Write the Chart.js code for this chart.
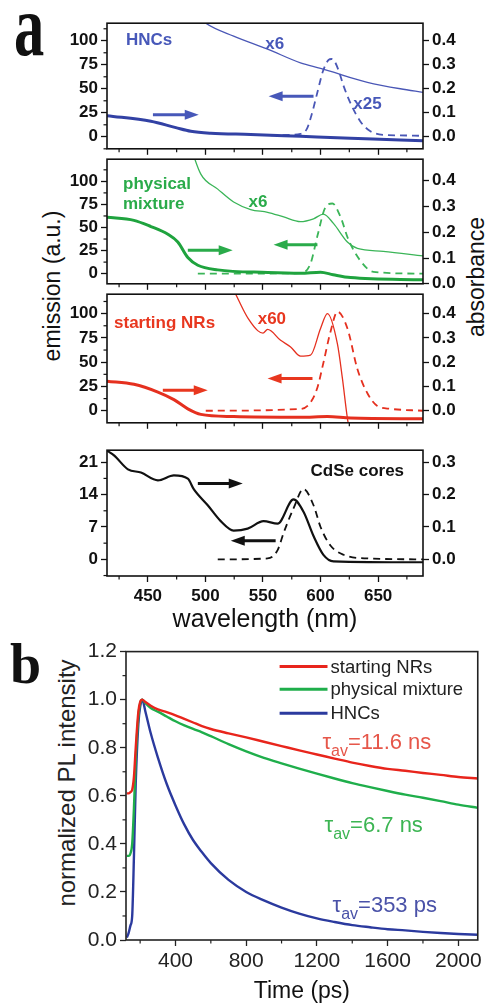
<!DOCTYPE html>
<html>
<head>
<meta charset="utf-8">
<script src="https://cdn.jsdelivr.net/npm/chart.js@4.4.1/dist/chart.umd.min.js"></script>
<style>
  body { margin: 0; background: #fff; width: 485px; height: 1003px; position: relative; overflow: hidden;
         font-family: 'Liberation Sans', Arial, sans-serif; color: #111; }
  .box { position: absolute; left: 0; width: 485px; }
  .rot { position: absolute; white-space: nowrap; transform: translate(-50%, -50%) rotate(-90deg); }
  .big { position: absolute; font-family: 'Liberation Serif', 'DejaVu Serif', serif; font-weight: bold;
         font-size: 56px; line-height: 56px; transform-origin: 0 0; }
</style>
</head>
<body>
<div class="big" style="left:14px;top:-20px;transform:scale(1.08,1.6)">a</div>
<div class="big" style="left:10px;top:636px">b</div>
<div class="rot" style="left:52px;top:286px;font-size:23px">emission (a.u.)</div>
<div class="rot" style="left:476px;top:277px;font-size:23px">absorbance</div>
<div class="rot" style="left:67px;top:783px;font-size:24px;color:#222">normalized PL intensity</div>

<div class="box" style="top:10px;height:152px"><canvas id="hnc"></canvas></div>
<div class="box" style="top:146px;height:151px"><canvas id="mix"></canvas></div>
<div class="box" style="top:281px;height:155px"><canvas id="nr"></canvas></div>
<div class="box" style="top:437px;height:197px"><canvas id="cdse"></canvas></div>
<div class="box" style="top:636px;height:367px"><canvas id="decay"></canvas></div>

<script>
// ---- panel a: wavelength axis ------------------------------------------------
const wlMin = 414.5, wlMax = 689;
const wlTicks = [450, 500, 550, 600, 650];

// HNCs (absorbance on right axis, emission on left axis)
const hncAbsWl = [414.5, 452.6, 474.3, 487.3, 504.6, 539.3, 582.6, 626, 669.3, 689];
const hncAbs   = [0.088, 0.065, 0.038, 0.023, 0.015, 0.010, 0.002, -0.006, -0.013, -0.017];
const hncAbsX6Wl = [487, 500.3, 524.5, 554, 582.6, 600, 611.2, 626, 640.7, 669.3, 689];
const hncAbsX6   = [0.53, 0.473, 0.419, 0.365, 0.308, 0.285, 0.269, 0.246, 0.227, 0.2, 0.185];
const hncEmWl = [556.6, 574, 582.6, 588, 592, 597, 602, 607, 609.5, 612, 616, 620, 626, 634.6, 643, 654.5, 669, 689];
const hncEm   = [1.5, 2, 3, 8, 22, 45, 68, 80, 81, 79, 68, 53, 35, 16, 6, 2, 1.5, 1];

// physical mixture
const mixAbsWl = [414.5, 437.9, 452.6, 467.4, 476, 484.7, 493.4, 510.7, 554, 582.6, 600, 611, 626, 689];
const mixAbs   = [0.258, 0.246, 0.222, 0.192, 0.162, 0.102, 0.072, 0.054, 0.044, 0.041, 0.045, 0.035, 0.024, 0.0155];
const mixAbsX6Wl = [485, 496, 510.7, 524.5, 539.3, 554, 568, 582.6, 593.9, 602.5, 611.2, 623.3, 632, 654.5, 689];
const mixAbsX6   = [0.56, 0.425, 0.367, 0.317, 0.288, 0.277, 0.259, 0.241, 0.252, 0.27, 0.234, 0.162, 0.137, 0.126, 0.108];
const mixEmWl = [493.4, 582.6, 591.3, 597.3, 604.3, 610.3, 617.2, 624.2, 634.6, 645.9, 689];
const mixEm   = [0, 0.5, 11, 41, 72, 76, 62, 37, 14, 2, 0];

// starting NRs
const nrAbsWl = [414.5, 437.9, 458.7, 472.6, 484.7, 496, 524.5, 582.6, 606, 626, 689];
const nrAbs   = [0.122, 0.109, 0.077, 0.046, 0.008, -0.015, -0.024, -0.027, -0.024, -0.03, -0.033];
const nrAbsX60Wl = [522, 526.3, 533, 537.5, 545.4, 550, 554, 565.3, 574, 582.6, 591.3, 600, 606, 614.7, 619, 623.3, 626];
const nrAbsX60   = [0.52, 0.48, 0.415, 0.377, 0.33, 0.32, 0.335, 0.29, 0.263, 0.225, 0.229, 0.339, 0.40, 0.274, 0.133, -0.03, -0.1];
const nrEmWl = [500.3, 582.6, 591.3, 597.3, 602.5, 608.6, 614.7, 623.3, 632, 640.7, 649.3, 660.6, 689];
const nrEm   = [0, 1.9, 8.6, 24, 49.5, 81, 102, 85, 43, 18, 5, 2, 0];

// CdSe cores
const cdseAbsWl = [414.5, 420.6, 432.7, 444, 458.7, 472.6, 484.7, 490, 502, 513.3, 524.5, 536.7, 550.5, 562.7, 576.5, 585.2, 593.9, 602.5, 611.2, 689];
const cdseAbs   = [0.336, 0.321, 0.278, 0.268, 0.244, 0.259, 0.249, 0.216, 0.167, 0.118, 0.089, 0.095, 0.118, 0.11, 0.185, 0.147, 0.072, 0.014, -0.006, -0.009];
const cdseEmWl = [510.7, 554, 562.7, 567.9, 576.5, 585.2, 593.9, 600, 608.6, 619.9, 640.7, 689];
const cdseEm   = [0, 0.2, 2, 5.7, 11, 15.2, 11.7, 7, 3, 1, 0.2, 0];

// ---- panel b: PL decay -------------------------------------------------------
const timeTicks = [400, 800, 1200, 1600, 2000];
const plTicks = [0, 0.2, 0.4, 0.6, 0.8, 1.0, 1.2];
const timePs = [125, 135, 145, 155, 165, 175, 190, 200, 212, 230, 260, 300, 350, 400, 450, 500, 550, 600,
                700, 800, 900, 1000, 1100, 1200, 1300, 1400, 1500, 1600, 1700, 1800, 1900, 2000, 2110];
const plNRs = [0.61, 0.61, 0.615, 0.625, 0.68, 0.8, 0.95, 0.99, 1.0, 0.99, 0.975, 0.96, 0.948, 0.935, 0.92, 0.905, 0.89, 0.878,
               0.86, 0.843, 0.825, 0.807, 0.789, 0.772, 0.755, 0.738, 0.724, 0.712, 0.704, 0.695, 0.687, 0.678, 0.672];
const plMix = [0.35, 0.35, 0.36, 0.40, 0.55, 0.75, 0.93, 0.985, 1.0, 0.985, 0.965, 0.95, 0.93, 0.91, 0.893, 0.878, 0.864, 0.848,
               0.815, 0.785, 0.758, 0.735, 0.713, 0.692, 0.672, 0.653, 0.636, 0.62, 0.605, 0.592, 0.578, 0.563, 0.55];
const plHNC = [0.01, 0.03, 0.06, 0.10, 0.35, 0.65, 0.9, 0.97, 1.0, 0.95, 0.86, 0.76, 0.65, 0.56, 0.48, 0.415, 0.365, 0.32,
               0.25, 0.2, 0.165, 0.135, 0.11, 0.09, 0.075, 0.062, 0.053, 0.045, 0.04, 0.034, 0.029, 0.025, 0.022];

// -------------------------------------------------------------------------------
const FAM = "'Liberation Sans', Arial, sans-serif";
Chart.defaults.font.family = FAM;
Chart.defaults.color = '#111';

const BLUE = '#3241a4', BLUE_T = '#4a57b6', BLUE_L = '#4758b9';
const GREEN = '#1fa33e', GREEN_T = '#3bb558', GREEN_L = '#2aab4a';
const RED = '#e5301f', RED_L = '#e8371f';
const BLACK = '#111';

const pts = (xs, ys) => xs.map((x, i) => ({x, y: ys[i]}));
const line = (data, color, width, axis, dash, label) => ({
  label, data, borderColor: color, backgroundColor: color, borderWidth: width, yAxisID: axis,
  borderDash: dash || [], pointRadius: 0, cubicInterpolationMode: 'monotone', fill: false
});
const DASH = [7, 5];

// box around the plot area
const frame = {
  id: 'frame',
  afterDatasetsDraw(chart, args, o) {
    const {ctx, chartArea: a} = chart;
    ctx.save();
    ctx.strokeStyle = o.color; ctx.lineWidth = o.width;
    ctx.strokeRect(a.left, a.top, a.right - a.left, a.bottom - a.top);
    ctx.restore();
  }
};

// short ticks between the labelled ones
const minorTicks = {
  id: 'minorTicks',
  afterDraw(chart, args, o) {
    const ctx = chart.ctx;
    ctx.save();
    ctx.strokeStyle = o.color; ctx.lineWidth = o.width;
    for (const [id, step] of Object.entries(o.steps || {})) {
      const s = chart.scales[id];
      if (!s) continue;
      const n0 = Math.ceil(s.min / step), n1 = Math.floor(s.max / step);
      for (let k = n0; k <= n1; k++) {
        const v = k * step;
        if (s.ticks.some(t => Math.abs(t.value - v) < step * 1e-3)) continue;
        const p = s.getPixelForValue(v);
        ctx.beginPath();
        if (s.isHorizontal()) { ctx.moveTo(p, s.top); ctx.lineTo(p, s.top + o.len); }
        else if (s.position === 'left') { ctx.moveTo(s.right, p); ctx.lineTo(s.right - o.len, p); }
        else { ctx.moveTo(s.left, p); ctx.lineTo(s.left + o.len, p); }
        ctx.stroke();
      }
    }
    ctx.restore();
  }
};

// labels, arrows, legend and lifetimes, placed in data units
const notes = {
  id: 'notes',
  afterDraw(chart, args, o) {
    const {ctx, scales} = chart;
    const X = scales.x;
    ctx.save();
    for (const n of o.items || []) {
      const Y = scales[n.axis || 'y'];
      if (n.arrow) {
        const x0 = X.getPixelForValue(n.arrow[0]), x1 = X.getPixelForValue(n.arrow[1]);
        const y = Y.getPixelForValue(n.y), dir = Math.sign(x1 - x0), head = 14;
        ctx.strokeStyle = n.color; ctx.fillStyle = n.color; ctx.lineWidth = 3;
        ctx.beginPath(); ctx.moveTo(x0, y); ctx.lineTo(x1 - dir * head * 0.7, y); ctx.stroke();
        ctx.beginPath(); ctx.moveTo(x1, y); ctx.lineTo(x1 - dir * head, y - 5); ctx.lineTo(x1 - dir * head, y + 5);
        ctx.closePath(); ctx.fill();
      } else if (n.legend) {
        const x0 = X.getPixelForValue(n.x0), x1 = X.getPixelForValue(n.x1), tx = X.getPixelForValue(n.tx);
        ctx.font = n.size + 'px ' + FAM; ctx.textBaseline = 'middle'; ctx.textAlign = 'left';
        chart.data.datasets.forEach((d, i) => {
          const y = Y.getPixelForValue(n.ys[i]);
          ctx.strokeStyle = d.borderColor; ctx.lineWidth = 3;
          ctx.beginPath(); ctx.moveTo(x0, y); ctx.lineTo(x1, y); ctx.stroke();
          ctx.fillStyle = n.color; ctx.fillText(d.label, tx, y + 1);
        });
      } else if (n.tau) {
        let x = X.getPixelForValue(n.x);
        const y = Y.getPixelForValue(n.y);
        ctx.fillStyle = n.color; ctx.textBaseline = 'alphabetic'; ctx.textAlign = 'left';
        ctx.font = n.size + 'px ' + FAM;
        ctx.fillText('τ', x, y); x += ctx.measureText('τ').width;
        ctx.font = Math.round(n.size * 0.72) + 'px ' + FAM;
        ctx.fillText('av', x, y + n.size * 0.33); x += ctx.measureText('av').width;
        ctx.font = n.size + 'px ' + FAM;
        ctx.fillText(n.text, x, y);
      } else {
        ctx.fillStyle = n.color; ctx.textBaseline = 'middle'; ctx.textAlign = 'left';
        ctx.font = 'bold 17px ' + FAM;
        ctx.fillText(n.text, X.getPixelForValue(n.x), Y.getPixelForValue(n.y));
      }
    }
    ctx.restore();
  }
};

const tickGrid = (len, color) => ({display: true, drawOnChartArea: false, drawTicks: true, tickLength: len,
  tickColor: color, tickWidth: 1.3, color: color});

function panelA(id, o) {
  const tickFont = {size: 17, weight: 'bold'};
  new Chart(document.getElementById(id), {
    type: 'line',
    data: {datasets: o.datasets},
    options: {
      responsive: true, maintainAspectRatio: false, animation: false, events: [],
      layout: {autoPadding: false, padding: {top: 4, left: 0, right: 0, bottom: 0}},
      scales: {
        x: {
          type: 'linear', min: wlMin, max: wlMax,
          afterBuildTicks: s => { s.ticks = wlTicks.map(v => ({value: v})); },
          afterFit: s => { s.height = o.xh; },
          grid: tickGrid(6, BLACK), border: {display: false},
          ticks: {display: !!o.xTitle, autoSkip: false, maxRotation: 0, font: tickFont, color: BLACK, padding: 4,
                  callback: v => String(v)},
          title: o.xTitle ? {display: true, text: o.xTitle, color: BLACK, font: {size: 25, lineHeight: 1},
                             padding: {top: 0, bottom: 1}} : {display: false}
        },
        y: {
          position: 'left', min: o.yMin, max: o.yMax,
          afterBuildTicks: s => { s.ticks = o.yTicks.map(v => ({value: v})); },
          afterFit: s => { s.width = 107; },
          grid: tickGrid(6, BLACK), border: {display: false},
          ticks: {font: tickFont, color: BLACK, padding: 3, callback: v => String(v)}
        },
        y1: {
          position: 'right', min: o.y1Min, max: o.y1Max,
          afterBuildTicks: s => { s.ticks = o.y1Ticks.map(v => ({value: v})); },
          afterFit: s => { s.width = 62; },
          grid: tickGrid(6, BLACK), border: {display: false},
          ticks: {font: tickFont, color: BLACK, padding: 3, callback: v => v.toFixed(1)}
        }
      },
      plugins: {
        legend: {display: false}, tooltip: {enabled: false},
        frame: {color: BLACK, width: 1.6},
        minorTicks: {color: BLACK, width: 1.2, len: 3.5, steps: {x: 25, y: o.yMinor}},
        notes: {items: o.notes}
      }
    },
    plugins: [frame, minorTicks, notes]
  });
}

const absTicks4 = [0, 0.1, 0.2, 0.3, 0.4];
const emTicks = [0, 25, 50, 75, 100];

panelA('hnc', {
  xh: 12, yMin: -12.5, yMax: 118.3, yTicks: emTicks, yMinor: 12.5,
  y1Min: -0.05, y1Max: 0.473, y1Ticks: absTicks4,
  datasets: [
    line(pts(hncAbsWl, hncAbs), BLUE, 3, 'y1'),
    line(pts(hncAbsX6Wl, hncAbsX6), BLUE_T, 1.3, 'y1'),
    line(pts(hncEmWl, hncEm), BLUE_T, 1.8, 'y', DASH)
  ],
  notes: [
    {text: 'HNCs', x: 431, y: 100, color: BLUE_L},
    {text: 'x6', x: 552, y: 96, color: BLUE_L},
    {text: 'x25', x: 628.5, y: 33.7, color: BLUE_L},
    {arrow: [454.4, 494.2], y: 23, color: BLUE_L},
    {arrow: [593.9, 554.9], y: 42.3, color: BLUE_L}
  ]
});

panelA('mix', {
  xh: 12, yMin: -11, yMax: 124, yTicks: emTicks, yMinor: 12.5,
  y1Min: 0, y1Max: 0.483, y1Ticks: absTicks4,
  datasets: [
    line(pts(mixAbsWl, mixAbs), GREEN, 3, 'y1'),
    line(pts(mixAbsX6Wl, mixAbsX6), GREEN_T, 1.3, 'y1'),
    line(pts(mixEmWl, mixEm), GREEN_T, 1.8, 'y', DASH)
  ],
  notes: [
    {text: 'physical', x: 428.4, y: 97, color: GREEN_L},
    {text: 'mixture', x: 428.4, y: 74.7, color: GREEN_L},
    {text: 'x6', x: 537.5, y: 77.8, color: GREEN_L},
    {arrow: [484.7, 523.7], y: 25.3, color: GREEN_L},
    {arrow: [597.3, 559.2], y: 31.3, color: GREEN_L}
  ]
});

panelA('nr', {
  xh: 12, yMin: -12.4, yMax: 120, yTicks: emTicks, yMinor: 12.5,
  y1Min: -0.0496, y1Max: 0.48, y1Ticks: absTicks4,
  datasets: [
    line(pts(nrAbsWl, nrAbs), RED, 3, 'y1'),
    line(pts(nrAbsX60Wl, nrAbsX60), RED, 1.3, 'y1'),
    line(pts(nrEmWl, nrEm), RED, 1.8, 'y', DASH)
  ],
  notes: [
    {text: 'starting NRs', x: 420.6, y: 90.5, color: RED_L},
    {text: 'x60', x: 545.4, y: 94.3, color: RED_L},
    {arrow: [463, 502], y: 21, color: RED_L},
    {arrow: [593, 554], y: 33.3, color: RED_L}
  ]
});

panelA('cdse', {
  xh: 58, xTitle: 'wavelength (nm)', yMin: -3.6, yMax: 23.6, yTicks: [0, 7, 14, 21], yMinor: 3.5,
  y1Min: -0.0514, y1Max: 0.337, y1Ticks: [0, 0.1, 0.2, 0.3],
  datasets: [
    line(pts(cdseAbsWl, cdseAbs), BLACK, 2.2, 'y1'),
    line(pts(cdseEmWl, cdseEm), BLACK, 1.8, 'y', DASH)
  ],
  notes: [
    {text: 'CdSe cores', x: 591.3, y: 19, color: BLACK},
    {arrow: [493.4, 532.4], y: 16.4, color: BLACK},
    {arrow: [561, 522], y: 4, color: BLACK}
  ]
});

// ---- panel b chart -------------------------------------------------------------
new Chart(document.getElementById('decay'), {
  type: 'line',
  data: {datasets: [
    line(pts(timePs, plNRs), '#e8251c', 2.4, 'y', null, 'starting NRs'),
    line(pts(timePs, plMix), '#1fae4b', 2.4, 'y', null, 'physical mixture'),
    line(pts(timePs, plHNC), '#2b3a9e', 2.4, 'y', null, 'HNCs')
  ]},
  options: {
    responsive: true, maintainAspectRatio: false, animation: false, events: [],
    layout: {autoPadding: false, padding: {top: 14, left: 0, right: 6, bottom: 0}},
    scales: {
      x: {
        type: 'linear', min: 120, max: 2110,
        afterBuildTicks: s => { s.ticks = timeTicks.map(v => ({value: v})); },
        afterFit: s => { s.height = 63; },
        grid: tickGrid(6, '#222'), border: {display: false},
        ticks: {autoSkip: false, maxRotation: 0, font: {size: 21}, color: '#222', padding: 3, callback: v => String(v)},
        title: {display: true, text: 'Time (ps)', color: '#111', font: {size: 23, lineHeight: 1}, padding: {top: 0, bottom: 0}}
      },
      y: {
        min: 0, max: 1.2,
        afterBuildTicks: s => { s.ticks = plTicks.map(v => ({value: v})); },
        afterFit: s => { s.width = 126; },
        grid: tickGrid(6, '#222'), border: {display: false},
        ticks: {font: {size: 21}, color: '#222', padding: 3, callback: v => v.toFixed(1)}
      }
    },
    plugins: {
      legend: {display: false}, tooltip: {enabled: false},
      frame: {color: '#222', width: 1.6},
      minorTicks: {color: '#222', width: 1.2, len: 3.5, steps: {x: 200, y: 0.1}},
      notes: {items: [
        {legend: true, x0: 989, x1: 1260, tx: 1277, ys: [1.138, 1.043, 0.943], size: 18.5, color: '#222'},
        {tau: true, text: '=11.6 ns', x: 1231, y: 0.794, size: 22, color: '#e6574a'},
        {tau: true, text: '=6.7 ns', x: 1243, y: 0.451, size: 22, color: '#3cb553'},
        {tau: true, text: '=353 ps', x: 1288, y: 0.116, size: 22, color: '#4a52a8'}
      ]}
    }
  },
  plugins: [frame, minorTicks, notes]
});
</script>
</body>
</html>
